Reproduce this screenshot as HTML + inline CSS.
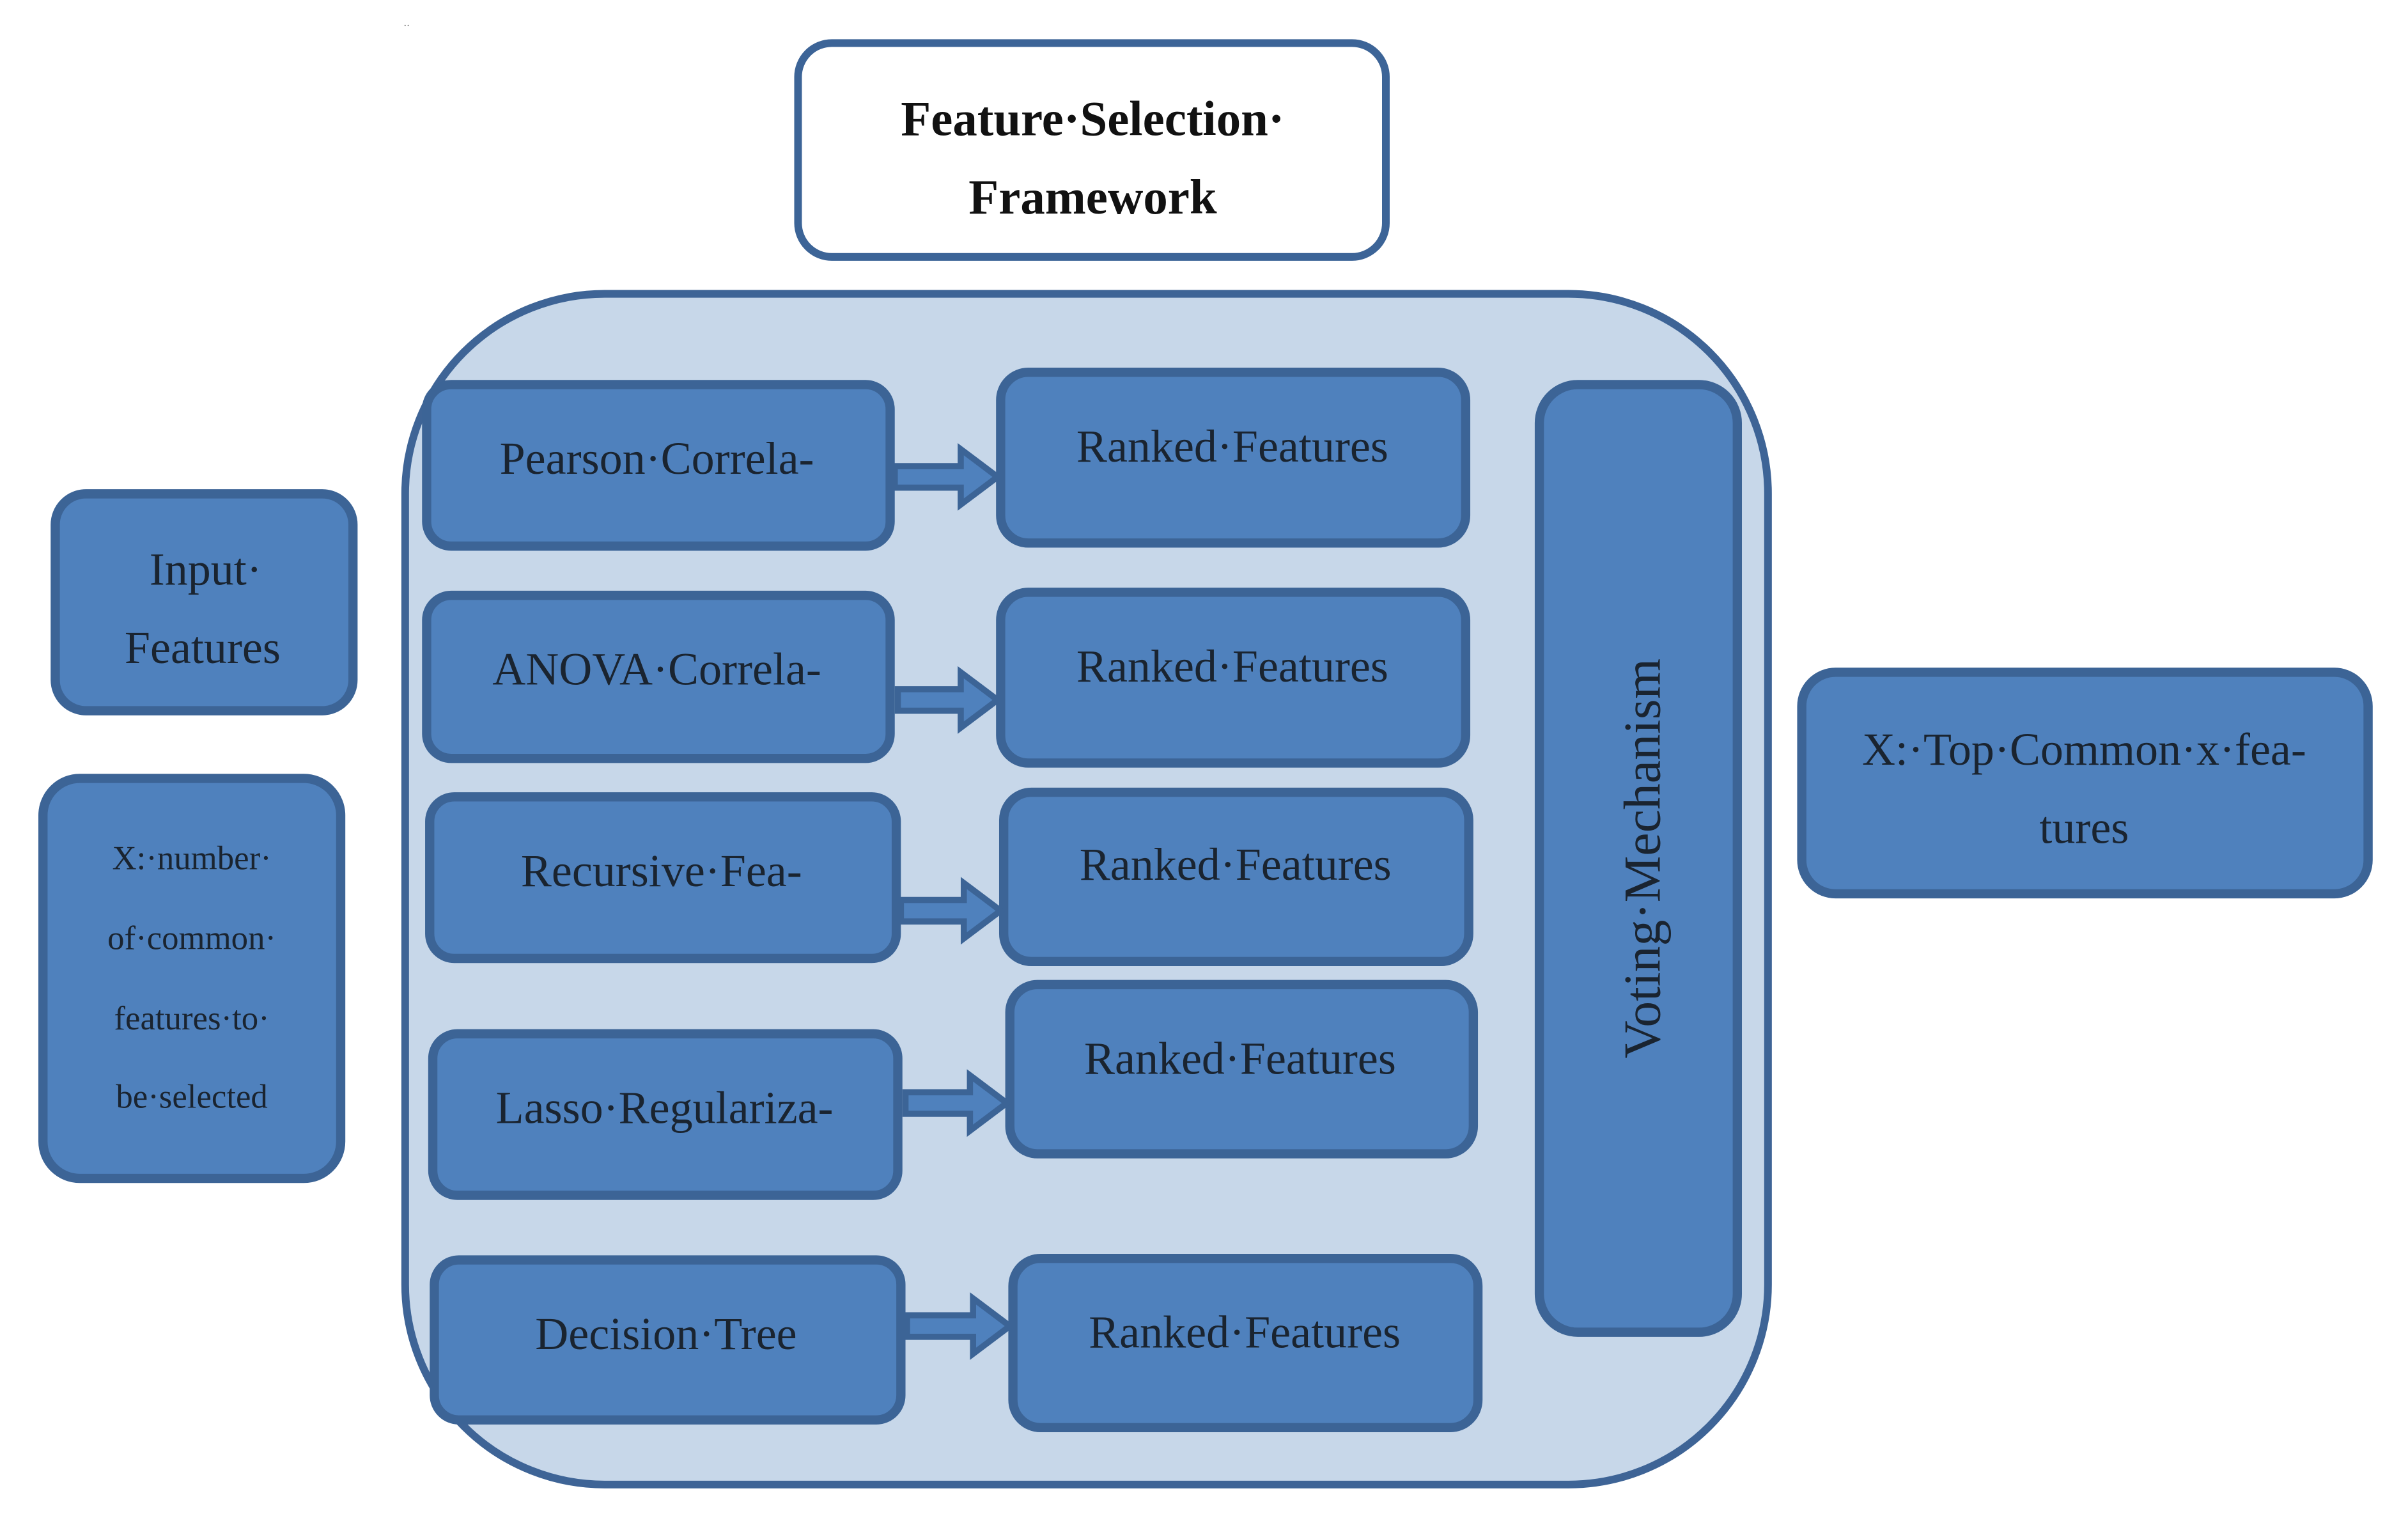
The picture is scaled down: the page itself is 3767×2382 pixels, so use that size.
<!DOCTYPE html>
<html><head><style>html,body{margin:0;padding:0;background:#fff}svg{display:block}</style></head>
<body>
<svg width="3767" height="2382" viewBox="0 0 1569 990" preserveAspectRatio="none" xmlns="http://www.w3.org/2000/svg" font-family="'Liberation Serif', serif">
<rect width="1569" height="990" fill="#fff"/>
<text x="263" y="17" font-size="8" fill="#888">..</text>
<rect x="520" y="28" width="383" height="139" rx="22" fill="#fff" stroke="#3c6497" stroke-width="5"/>
<text x="712" y="77" font-size="32" font-weight="bold" text-anchor="middle" dominant-baseline="central" fill="#111">Feature·Selection·</text>
<text x="712" y="128" font-size="32" font-weight="bold" text-anchor="middle" dominant-baseline="central" fill="#111">Framework</text>
<rect x="264" y="191" width="888" height="774" rx="130" fill="#c7d7e9" stroke="#3e6496" stroke-width="5"/>
<g fill="#4f81bd" stroke="#3c6496" stroke-width="6">
<rect x="36" y="321" width="194" height="141" rx="20"/>
<rect x="28" y="506" width="194" height="260" rx="24"/>
<rect x="278" y="250" width="302" height="105" rx="16"/>
<rect x="278" y="387" width="302" height="106" rx="16"/>
<rect x="280" y="518" width="304" height="105" rx="16"/>
<rect x="282" y="672" width="303" height="105" rx="16"/>
<rect x="283" y="819" width="304" height="104" rx="16"/>
<rect x="652" y="242" width="303" height="111" rx="18"/>
<rect x="652" y="385" width="303" height="111" rx="18"/>
<rect x="654" y="515" width="303" height="110" rx="18"/>
<rect x="658" y="640" width="302" height="110" rx="18"/>
<rect x="660" y="818" width="303" height="110" rx="18"/>
<rect x="1003" y="250" width="129" height="616" rx="25"/>
<rect x="1174" y="437" width="369" height="144" rx="22"/>
</g>
<g fill="#4f81bd" stroke="#3c6496" stroke-width="4">
<polygon points="583,303 626,303 626,292 650,310 626,328 626,317 583,317"/>
<polygon points="585,448 626,448 626,437 650,455 626,473 626,462 585,462"/>
<polygon points="587,585 628,585 628,574 652,592 628,610 628,599 587,599"/>
<polygon points="590,710 632,710 632,699 656,717 632,735 632,724 590,724"/>
<polygon points="591,855 634,855 634,844 658,862 634,880 634,869 591,869"/>
</g>
<g fill="#1a2430" text-anchor="middle" dominant-baseline="central">
<text x="134" y="370" font-size="30">Input·</text>
<text x="132" y="421" font-size="30">Features</text>
<text x="125" y="558" font-size="22">X:·number·</text>
<text x="125" y="610" font-size="22">of·common·</text>
<text x="125" y="662" font-size="22">features·to·</text>
<text x="125" y="713" font-size="22">be·selected</text>
<text x="428" y="298" font-size="30">Pearson·Correla-</text>
<text x="428" y="435" font-size="30">ANOVA·Correla-</text>
<text x="431" y="566" font-size="30">Recursive·Fea-</text>
<text x="433" y="720" font-size="30">Lasso·Regulariza-</text>
<text x="434" y="867" font-size="30">Decision·Tree</text>
<text x="803" y="290" font-size="30">Ranked·Features</text>
<text x="803" y="433" font-size="30">Ranked·Features</text>
<text x="805" y="562" font-size="30">Ranked·Features</text>
<text x="808" y="688" font-size="30">Ranked·Features</text>
<text x="811" y="866" font-size="30">Ranked·Features</text>
<text x="1358" y="487" font-size="30">X:·Top·Common·x·fea-</text>
<text x="1358" y="538" font-size="30">tures</text>
<text x="0" y="0" font-size="34" transform="translate(1070,558) rotate(-90)">Voting·Mechanism</text>
</g>
</svg>
</body></html>
